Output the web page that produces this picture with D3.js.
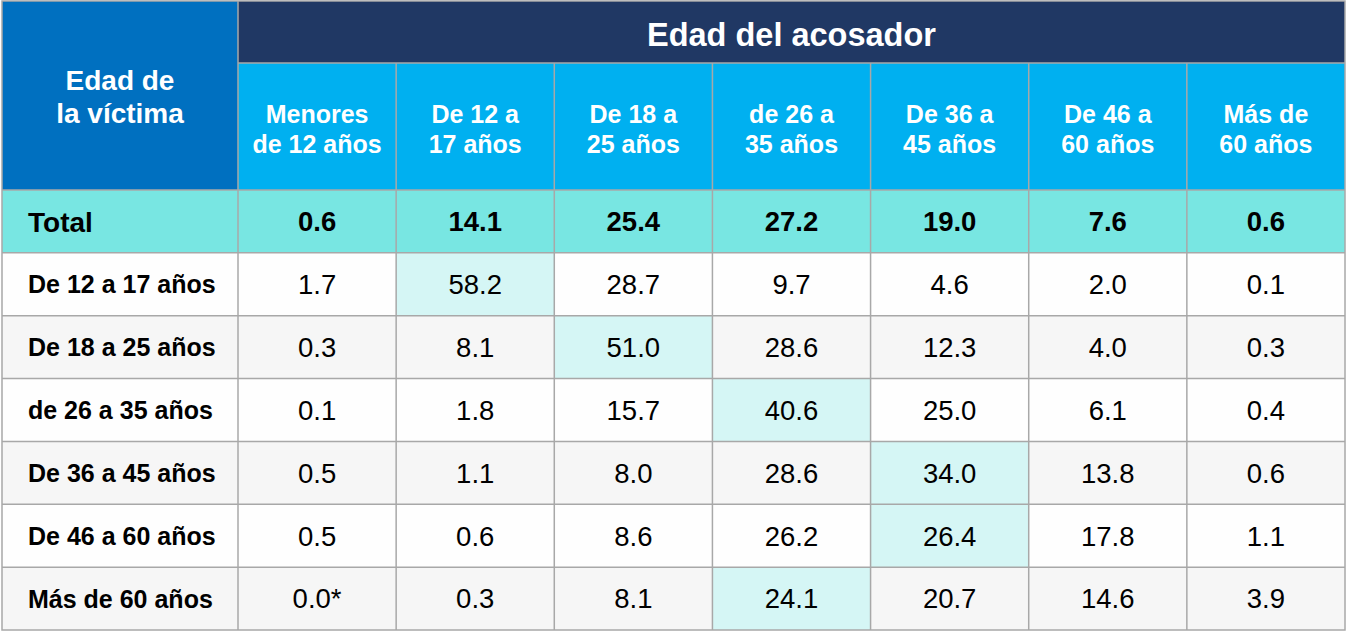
<!DOCTYPE html>
<html>
<head>
<meta charset="utf-8">
<script src="https://cdn.jsdelivr.net/npm/d3@7"></script>
<style>
  body { margin: 0; background: #ffffff; }
  svg text { font-family: "Liberation Sans", Arial, sans-serif; }
</style>
</head>
<body>
<div id="chart"></div>
<script>
var titleVictim = ["Edad de", "la víctima"];
var titleAggressor = "Edad del acosador";
var colLabels = [
	["Menores", "de 12 años"],
	["De 12 a", "17 años"],
	["De 18 a", "25 años"],
	["de 26 a", "35 años"],
	["De 36 a", "45 años"],
	["De 46 a", "60 años"],
	["Más de", "60 años"]
];
var totalLabel = "Total";
var totalValues = ["0.6", "14.1", "25.4", "27.2", "19.0", "7.6", "0.6"];
var rowLabels = ["De 12 a 17 años", "De 18 a 25 años", "de 26 a 35 años", "De 36 a 45 años", "De 46 a 60 años", "Más de 60 años"];
var values = [
	["1.7", "58.2", "28.7", "9.7", "4.6", "2.0", "0.1"],
	["0.3", "8.1", "51.0", "28.6", "12.3", "4.0", "0.3"],
	["0.1", "1.8", "15.7", "40.6", "25.0", "6.1", "0.4"],
	["0.5", "1.1", "8.0", "28.6", "34.0", "13.8", "0.6"],
	["0.5", "0.6", "8.6", "26.2", "26.4", "17.8", "1.1"],
	["0.0*", "0.3", "8.1", "24.1", "20.7", "14.6", "3.9"]
];
// column index of the highlighted cell in each row
var highlightCol = [1, 2, 3, 4, 4, 3];

var width = 1349, height = 636;
var gridColor = "#a8a8a8";

var svg = d3.select("#chart").append("svg")
	.attr("width", width)
	.attr("height", height);

var x0 = 2, x1 = 1345, firstW = 236;
var y0 = 1, navyH = 62, subH = 127, y1 = 630;

var x = d3.scaleBand()
	.domain(d3.range(colLabels.length))
	.range([x0 + firstW, x1]);

var rowKeys = ["total"].concat(d3.range(rowLabels.length));
var y = d3.scaleBand()
	.domain(rowKeys)
	.range([y0 + navyH + subH, y1]);

// header blocks
svg.append("rect")
	.attr("x", x0).attr("y", y0)
	.attr("width", firstW).attr("height", navyH + subH)
	.attr("fill", "#0070c0");

svg.append("rect")
	.attr("x", x0 + firstW).attr("y", y0)
	.attr("width", x1 - x0 - firstW).attr("height", navyH)
	.attr("fill", "#203864");

svg.append("g").selectAll("rect")
	.data(colLabels)
	.enter().append("rect")
	.attr("x", function(d, i) { return x(i); })
	.attr("y", y0 + navyH)
	.attr("width", x.bandwidth())
	.attr("height", subH)
	.attr("fill", "#00b0f0");

svg.append("text")
	.attr("x", (x0 + firstW + x1) / 2)
	.attr("y", y0 + navyH / 2 + 2)
	.attr("dy", "0.36em")
	.attr("text-anchor", "middle")
	.attr("fill", "white")
	.style("font-weight", "bold")
	.style("font-size", "32.5px")
	.text(titleAggressor);

var vt = svg.append("text")
	.attr("text-anchor", "middle")
	.attr("fill", "white")
	.style("font-weight", "bold")
	.style("font-size", "28px");
titleVictim.forEach(function(t, i) {
	vt.append("tspan")
		.attr("x", x0 + firstW / 2)
		.attr("y", y0 + (navyH + subH) / 2 + (i - 0.5) * 33 + 1)
		.attr("dy", "0.36em")
		.text(t);
});

svg.append("g").selectAll("text")
	.data(colLabels)
	.enter().append("text")
	.attr("text-anchor", "middle")
	.attr("fill", "white")
	.style("font-weight", "bold")
	.style("font-size", "25px")
	.each(function(d, i) {
		var t = d3.select(this);
		d.forEach(function(line, j) {
			t.append("tspan")
				.attr("x", x(i) + x.bandwidth() / 2)
				.attr("y", y0 + navyH + subH / 2 + (j - 0.5) * 30 + 2)
				.attr("dy", "0.36em")
				.text(line);
		});
	});

// total row
svg.append("rect")
	.attr("x", x0).attr("y", y("total"))
	.attr("width", x1 - x0).attr("height", y.bandwidth())
	.attr("fill", "#78e6e2");

svg.append("text")
	.attr("x", 28)
	.attr("y", y("total") + y.bandwidth() / 2)
	.attr("dy", "0.36em")
	.style("font-weight", "bold")
	.style("font-size", "28px")
	.attr("fill", "black")
	.text(totalLabel);

svg.append("g").selectAll("text")
	.data(totalValues)
	.enter().append("text")
	.attr("x", function(d, i) { return x(i) + x.bandwidth() / 2; })
	.attr("y", y("total") + y.bandwidth() / 2)
	.attr("dy", "0.36em")
	.attr("text-anchor", "middle")
	.style("font-weight", "bold")
	.style("font-size", "27.5px")
	.attr("fill", "black")
	.text(function(d) { return d; });

// body rows
var rows = svg.append("g").selectAll("g")
	.data(values)
	.enter().append("g")
	.attr("transform", function(d, r) { return "translate(0," + y(r) + ")"; });

rows.append("rect")
	.attr("x", x0).attr("y", 0)
	.attr("width", x1 - x0).attr("height", y.bandwidth())
	.attr("fill", function(d, r) { return r % 2 == 0 ? "#fefefe" : "#f6f6f6"; });

rows.append("rect")
	.attr("x", function(d, r) { return x(highlightCol[r]); })
	.attr("y", 0)
	.attr("width", x.bandwidth())
	.attr("height", y.bandwidth())
	.attr("fill", "#d5f6f5");

rows.append("text")
	.attr("x", 28)
	.attr("y", y.bandwidth() / 2)
	.attr("dy", "0.36em")
	.style("font-weight", "bold")
	.style("font-size", "25px")
	.attr("fill", "black")
	.text(function(d, r) { return rowLabels[r]; });

rows.selectAll("text.v")
	.data(function(d) { return d; })
	.enter().append("text")
	.attr("class", "v")
	.attr("x", function(d, i) { return x(i) + x.bandwidth() / 2; })
	.attr("y", y.bandwidth() / 2)
	.attr("dy", "0.36em")
	.attr("text-anchor", "middle")
	.style("font-size", "27.5px")
	.attr("fill", "black")
	.text(function(d) { return d; });

// grid lines
var grid = svg.append("g")
	.attr("stroke", gridColor)
	.attr("stroke-width", 1.5)
	.attr("fill", "none");

grid.selectAll("line.h")
	.data(rowKeys.slice(1))
	.enter().append("line")
	.attr("x1", x0).attr("x2", x1)
	.attr("y1", function(d) { return y(d); })
	.attr("y2", function(d) { return y(d); });

grid.append("line")
	.attr("x1", x0).attr("x2", x1)
	.attr("y1", y("total")).attr("y2", y("total"));

grid.append("line")
	.attr("x1", x0 + firstW).attr("x2", x1)
	.attr("y1", y0 + navyH).attr("y2", y0 + navyH);

grid.selectAll("line.v")
	.data(d3.range(colLabels.length))
	.enter().append("line")
	.attr("x1", function(d) { return x(d); })
	.attr("x2", function(d) { return x(d); })
	.attr("y1", function(d) { return d == 0 ? y0 : y0 + navyH; })
	.attr("y2", y1);

grid.append("rect")
	.attr("x", x0).attr("y", y0)
	.attr("width", x1 - x0).attr("height", y1 - y0);
</script>
</body>
</html>
